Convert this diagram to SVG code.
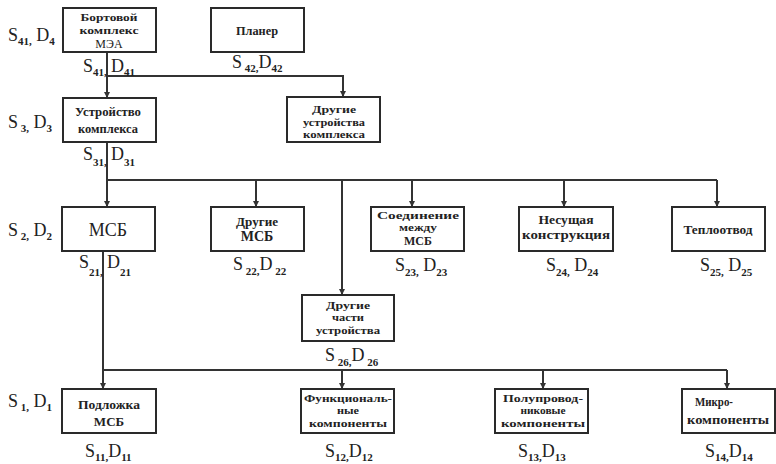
<svg xmlns="http://www.w3.org/2000/svg" width="776" height="464" viewBox="0 0 776 464">
<style>
.box{fill:#fff;stroke:#2a2a2a;stroke-width:2}
.t{font-family:"Liberation Serif","Times New Roman","DejaVu Serif",serif;font-weight:bold;font-size:11px;fill:#222;text-anchor:middle}
.big{font-family:"Liberation Serif","Times New Roman","DejaVu Serif",serif;font-size:18px;fill:#222;text-anchor:middle}
.lbl{font-family:"Liberation Serif","Times New Roman","DejaVu Serif",serif;font-size:18px;fill:#222}
.sub{font-size:11px;font-weight:bold}
.ln{fill:none;stroke:#333;stroke-width:2}
.ar{fill:none;stroke:#333;stroke-width:2;marker-end:url(#ah)}
</style>
<defs>
<marker id="ah" viewBox="0 0 10 10" refX="10" refY="5" markerWidth="6" markerHeight="8" markerUnits="userSpaceOnUse" orient="auto">
<path d="M0,0 L10,5 L0,10 z" fill="#333"/>
</marker>
</defs>
<rect width="776" height="464" fill="#fff"/>

<g id="connectors">
<path class="ar" d="M107,52 V98"/>
<path class="ar" d="M107,76 H343 V97"/>
<path class="ln" d="M107,142 V180 H717"/>
<path class="ar" d="M107,180 V207"/>
<path class="ar" d="M256,180 V207"/>
<path class="ar" d="M342,180 V295"/>
<path class="ar" d="M412,180 V207"/>
<path class="ar" d="M564,180 V207"/>
<path class="ar" d="M717,180 V207"/>
<path class="ln" d="M103,251 V370 H727"/>
<path class="ar" d="M103,370 V389"/>
<path class="ar" d="M342,370 V389"/>
<path class="ar" d="M543,370 V389"/>
<path class="ar" d="M727,370 V389"/>
</g>

<g id="n-bortovoy">
<rect class="box" x="63" y="8" width="93" height="44"/>
<text class="t" x="109" y="21" textLength="57" lengthAdjust="spacingAndGlyphs">Бортовой</text>
<text class="t" x="109" y="34" textLength="59" lengthAdjust="spacingAndGlyphs">комплекс</text>
<text class="t" x="109" y="48" style="font-weight:normal;font-size:12px">МЭА</text>
</g>
<g id="n-planer">
<rect class="box" x="211" y="8" width="93" height="44"/>
<text class="t" x="257" y="35" style="font-size:12px" textLength="42" lengthAdjust="spacingAndGlyphs">Планер</text>
</g>
<g id="n-ustr">
<rect class="box" x="63" y="98" width="93" height="44"/>
<text class="t" x="108" y="116" style="font-size:12px" textLength="66" lengthAdjust="spacingAndGlyphs">Устройство</text>
<text class="t" x="108" y="133" style="font-size:12px" textLength="60" lengthAdjust="spacingAndGlyphs">комплекса</text>
</g>
<g id="n-drugie-ustr">
<rect class="box" x="287" y="97" width="93" height="45"/>
<text class="t" x="334" y="113" textLength="44" lengthAdjust="spacingAndGlyphs">Другие</text>
<text class="t" x="334" y="125.5" textLength="62" lengthAdjust="spacingAndGlyphs">устройства</text>
<text class="t" x="334" y="138" textLength="62" lengthAdjust="spacingAndGlyphs">комплекса</text>
</g>
<g id="n-msb">
<rect class="box" x="62" y="207" width="93" height="44"/>
<text class="big" x="108" y="236">МСБ</text>
</g>
<g id="n-drugie-msb">
<rect class="box" x="211" y="207" width="93" height="44"/>
<text class="t" x="257" y="226" style="font-size:12px" textLength="42" lengthAdjust="spacingAndGlyphs">Другие</text>
<text class="t" x="257" y="241" style="font-size:14px">МСБ</text>
</g>
<g id="n-soed">
<rect class="box" x="371" y="207" width="93" height="44"/>
<text class="t" x="418" y="218.5" textLength="82" lengthAdjust="spacingAndGlyphs">Соединение</text>
<text class="t" x="418" y="231" textLength="38" lengthAdjust="spacingAndGlyphs">между</text>
<text class="t" x="418" y="244.5" style="font-size:12px">МСБ</text>
</g>
<g id="n-nes">
<rect class="box" x="519" y="207" width="94" height="44"/>
<text class="t" x="566" y="224" style="font-size:12px" textLength="55" lengthAdjust="spacingAndGlyphs">Несущая</text>
<text class="t" x="566" y="239" style="font-size:12px" textLength="88" lengthAdjust="spacingAndGlyphs">конструкция</text>
</g>
<g id="n-tepl">
<rect class="box" x="672" y="207" width="93" height="44"/>
<text class="t" x="718" y="234" style="font-size:12px" textLength="69" lengthAdjust="spacingAndGlyphs">Теплоотвод</text>
</g>
<g id="n-drugie-chasti">
<rect class="box" x="302" y="295" width="92" height="46"/>
<text class="t" x="348" y="308.5" textLength="44" lengthAdjust="spacingAndGlyphs">Другие</text>
<text class="t" x="348" y="321" textLength="32" lengthAdjust="spacingAndGlyphs">части</text>
<text class="t" x="348" y="333.5" textLength="64" lengthAdjust="spacingAndGlyphs">устройства</text>
</g>
<g id="n-podl">
<rect class="box" x="62" y="389" width="94" height="44"/>
<text class="t" x="109" y="409" style="font-size:12px" textLength="62" lengthAdjust="spacingAndGlyphs">Подложка</text>
<text class="t" x="109" y="426" style="font-size:13px">МСБ</text>
</g>
<g id="n-func">
<rect class="box" x="301" y="389" width="93" height="44"/>
<text class="t" x="348" y="401.5" textLength="88" lengthAdjust="spacingAndGlyphs">Функциональ-</text>
<text class="t" x="348" y="414" textLength="22" lengthAdjust="spacingAndGlyphs">ные</text>
<text class="t" x="348" y="426.5" textLength="78" lengthAdjust="spacingAndGlyphs">компоненты</text>
</g>
<g id="n-polu">
<rect class="box" x="495" y="389" width="93" height="44"/>
<text class="t" x="543" y="401.5" textLength="80" lengthAdjust="spacingAndGlyphs">Полупровод-</text>
<text class="t" x="543" y="414" textLength="45" lengthAdjust="spacingAndGlyphs">никовые</text>
<text class="t" x="543" y="426.5" textLength="84" lengthAdjust="spacingAndGlyphs">компоненты</text>
</g>
<g id="n-micro">
<rect class="box" x="682" y="389" width="93" height="44"/>
<text class="t" x="695" y="406" style="text-anchor:start;font-size:12px" textLength="38" lengthAdjust="spacingAndGlyphs">Микро-</text>
<text class="t" x="728" y="424" style="font-size:12px" textLength="82" lengthAdjust="spacingAndGlyphs">компоненты</text>
</g>

<g id="labels">
<text class="lbl" x="8" y="41">S<tspan class="sub" dy="4">41,</tspan><tspan dy="-4"> D</tspan><tspan class="sub" dy="4">4</tspan></text>
<text class="lbl" x="83" y="72">S<tspan class="sub" dy="4">41,</tspan></text>
<text class="lbl" x="111" y="72">D<tspan class="sub" dy="4">41</tspan></text>
<text class="lbl" x="232" y="68">S<tspan class="sub" dy="4"> 42,</tspan><tspan dy="-4">D</tspan><tspan class="sub" dy="4">42</tspan></text>
<text class="lbl" x="8" y="128">S<tspan class="sub" dy="4"> 3,</tspan><tspan dy="-4"> D</tspan><tspan class="sub" dy="4">3</tspan></text>
<text class="lbl" x="83" y="160">S<tspan class="sub" dy="6">31,</tspan></text>
<text class="lbl" x="111" y="160">D<tspan class="sub" dy="6">31</tspan></text>
<text class="lbl" x="8" y="236">S<tspan class="sub" dy="4"> 2,</tspan><tspan dy="-4"> D</tspan><tspan class="sub" dy="4">2</tspan></text>
<text class="lbl" x="79" y="268">S<tspan class="sub" dy="8">21,</tspan></text>
<text class="lbl" x="107" y="268">D<tspan class="sub" dy="8">21</tspan></text>
<text class="lbl" x="233" y="270">S<tspan class="sub" dy="5"> 22,</tspan><tspan dy="-5">D</tspan><tspan class="sub" dy="5"> 22</tspan></text>
<text class="lbl" x="395" y="271">S<tspan class="sub" dy="5">23,</tspan><tspan dy="-5"> D</tspan><tspan class="sub" dy="5">23</tspan></text>
<text class="lbl" x="546" y="271">S<tspan class="sub" dy="5">24,</tspan><tspan dy="-5"> D</tspan><tspan class="sub" dy="5">24</tspan></text>
<text class="lbl" x="700" y="271">S<tspan class="sub" dy="5">25,</tspan><tspan dy="-5"> D</tspan><tspan class="sub" dy="5">25</tspan></text>
<text class="lbl" x="325" y="361">S<tspan class="sub" dy="5"> 26,</tspan><tspan dy="-5">D</tspan><tspan class="sub" dy="5"> 26</tspan></text>
<text class="lbl" x="8" y="407">S<tspan class="sub" dy="4"> 1,</tspan><tspan dy="-4"> D</tspan><tspan class="sub" dy="4">1</tspan></text>
<text class="lbl" x="85" y="457">S<tspan class="sub" dy="4">11,</tspan><tspan dy="-4">D</tspan><tspan class="sub" dy="4">11</tspan></text>
<text class="lbl" x="325" y="457">S<tspan class="sub" dy="4">12,</tspan><tspan dy="-4">D</tspan><tspan class="sub" dy="4">12</tspan></text>
<text class="lbl" x="518" y="457">S<tspan class="sub" dy="4">13,</tspan><tspan dy="-4">D</tspan><tspan class="sub" dy="4">13</tspan></text>
<text class="lbl" x="705" y="457">S<tspan class="sub" dy="4">14,</tspan><tspan dy="-4">D</tspan><tspan class="sub" dy="4">14</tspan></text>
</g>
</svg>
